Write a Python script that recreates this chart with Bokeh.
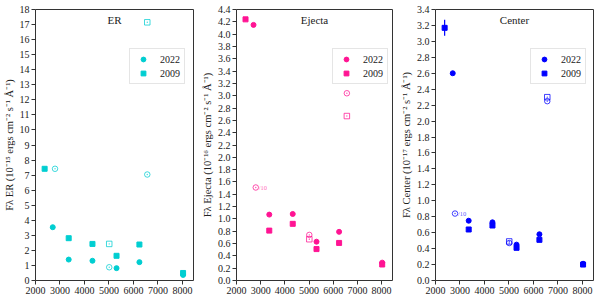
import numpy as np
from bokeh.plotting import figure
from bokeh.layouts import row
from bokeh.models import (Legend, LegendItem, Label, Range1d, FixedTicker,
                          PrintfTickFormatter)
from bokeh.embed import file_html
from bokeh.resources import INLINE
from bokeh.core.properties import value

# ---- data (wavelength in Angstrom) ----
wl_broad_2022 = [2704, 3355, 4325, 5308, 6242, 8024]
wl_broad_2009 = [2373, 3355, 4325, 5308, 6242, 8024]
wl_narrow_2022 = [2797, 5010, 6563]
wl_narrow_2009 = [5010, 6563]

x_ticks = [2000, 3000, 4000, 5000, 6000, 7000, 8000]

# ER (1e-15)
er_2022 = [3.54, 1.39, 1.31, 0.82, 1.22, 0.37]
er_2009 = [7.42, 2.81, 2.43, 1.64, 2.39, 0.50]
er_nb_2022 = [7.42, 0.88, 7.04]
er_nb_2009 = [2.43, 17.15]
er_err_2009 = [0.05, 0.03, 0.03, 0.02, 0.03, 0.02]

# Ejecta (1e-16)
ej_2022 = [4.15, 1.07, 1.08, 0.63, 0.79, 0.29]
ej_2009 = [4.24, 0.81, 0.92, 0.51, 0.61, 0.26]
ej_nb_2022 = [1.51, 0.74, 3.04]
ej_nb_2009 = [0.67, 2.67]
ej_err_2009 = [0.03, 0.02, 0.02, 0.01, 0.01, 0.01]

# Center (1e-17)
ce_2022 = [2.60, 0.75, 0.73, 0.45, 0.58, 0.21]
ce_2009 = [3.17, 0.64, 0.69, 0.41, 0.51, 0.20]
ce_nb_2022 = [0.84, 0.47, 2.25]
ce_nb_2009 = [0.49, 2.30]
ce_err_2009 = [0.10, 0.01, 0.01, 0.01, 0.01, 0.01]

scaled_label = "/10"

panels = [
    dict(name="ER", color="#00CED1", ymax=18, ystep=1, fmt=None,
         ylabel="F\u03bb ER (10\u207b\u00b9\u2075 ergs cm\u207b\u00b2 s\u207b\u00b9 \u00c5\u207b\u00b9)",
         y22=er_2022, y09=er_2009, n22=er_nb_2022, n09=er_nb_2009, e09=er_err_2009,
         tag=False, w=198, lb=35, rb=5, lx=94),
    dict(name="Ejecta", color="#FF1493", ymax=4.4, ystep=0.2, fmt="%.1f",
         ylabel="F\u03bb Ejecta (10\u207b\u00b9\u2076 ergs cm\u207b\u00b2 s\u207b\u00b9 \u00c5\u207b\u00b9)",
         y22=ej_2022, y09=ej_2009, n22=ej_nb_2022, n09=ej_nb_2009, e09=ej_err_2009,
         tag=True, w=199, lb=36, rb=5, lx=96),
    dict(name="Center", color="#0000FF", ymax=3.4, ystep=0.2, fmt="%.1f",
         ylabel="F\u03bb Center (10\u207b\u00b9\u2077 ergs cm\u207b\u00b2 s\u207b\u00b9 \u00c5\u207b\u00b9)",
         y22=ce_2022, y09=ce_2009, n22=ce_nb_2022, n09=ce_nb_2009, e09=ce_err_2009,
         tag=True, w=201, lb=38, rb=5, lx=95),
]

FONT = "Liberation Serif"
XMIN, XMAX = 2000, 8450

figs = []
for pd_ in panels:
    c = pd_["color"]
    p = figure(width=pd_["w"], height=299, output_backend="svg",
               toolbar_location=None, x_range=Range1d(XMIN, XMAX),
               y_range=Range1d(0, pd_["ymax"]),
               min_border_top=9, min_border_bottom=19,
               min_border_left=pd_["lb"], min_border_right=pd_["rb"])
    p.xgrid.visible = False
    p.ygrid.visible = False
    p.outline_line_color = "#333333"
    p.outline_line_width = 1
    p.background_fill_color = "white"
    p.border_fill_color = "white"

    p.xaxis.ticker = FixedTicker(ticks=x_ticks)
    n = int(round(pd_["ymax"] / pd_["ystep"]))
    p.yaxis.ticker = FixedTicker(ticks=[round(i * pd_["ystep"], 2) for i in range(n + 1)])
    if pd_["fmt"]:
        p.yaxis.formatter = PrintfTickFormatter(format=pd_["fmt"])
    for ax in (p.xaxis, p.yaxis):
        ax.axis_line_color = None
        ax.major_tick_line_color = "#333333"
        ax.major_tick_out = 4
        ax.major_tick_in = 0
        ax.minor_tick_line_color = None
        ax.major_label_text_font = FONT
        ax.major_label_text_font_size = "10px"
        ax.major_label_text_font_style = "normal"
        ax.major_label_text_color = "#222222"
        ax.major_label_standoff = 2
    p.yaxis.axis_label = pd_["ylabel"]
    p.yaxis.axis_label_text_font = FONT
    p.yaxis.axis_label_text_font_size = "10.5px"
    p.yaxis.axis_label_text_font_style = "normal"
    p.yaxis.axis_label_text_color = "#222222"
    p.yaxis.axis_label_standoff = 2

    # error bars (2009 broad band)
    lo = [v - e for v, e in zip(pd_["y09"], pd_["e09"])]
    hi = [v + e for v, e in zip(pd_["y09"], pd_["e09"])]
    p.segment(x0=wl_broad_2009, x1=wl_broad_2009, y0=lo, y1=hi,
              line_color=c, line_width=1.2)

    r22 = p.scatter(wl_broad_2022, pd_["y22"], marker="circle", size=5,
                    fill_color=c, line_color=c)
    r09 = p.scatter(wl_broad_2009, pd_["y09"], marker="square", size=5,
                    fill_color=c, line_color=c)
    p.scatter(wl_narrow_2022, pd_["n22"], marker="circle_dot", size=5.5,
              fill_color=None, line_color=c, line_alpha=0.75, line_width=1)
    p.scatter(wl_narrow_2009, pd_["n09"], marker="square_dot", size=5.5,
              fill_color=None, line_color=c, line_alpha=0.75, line_width=1)

    if pd_["tag"]:
        p.text(x=[wl_narrow_2022[0]], y=[pd_["n22"][0]], text=[scaled_label],
               x_offset=3, text_baseline="middle", text_align="left",
               text_font=value(FONT), text_font_size="6.5px",
               text_color=c, text_alpha=0.7)

    p.add_layout(Label(x=(XMIN + XMAX) / 2, y=pd_["ymax"], y_offset=-10,
                       text=pd_["name"], text_align="center",
                       text_baseline="middle", text_font=FONT,
                       text_font_style="normal",
                       text_font_size="11px", text_color="#222222"))

    leg = Legend(items=[LegendItem(label="2022", renderers=[r22]),
                        LegendItem(label="2009", renderers=[r09])],
                 location=(pd_["lx"], 196), margin=0, padding=4, spacing=2,
                 glyph_width=18, glyph_height=12, label_height=12,
                 label_standoff=8, label_text_font=FONT,
                 label_text_font_size="10px", label_text_color="#222222",
                 border_line_color="#cccccc", border_line_width=1,
                 background_fill_alpha=0.8)
    p.add_layout(leg)
    figs.append(p)

layout = row(*figs, spacing=0)
open("out.html", "w").write(file_html(layout, INLINE))
